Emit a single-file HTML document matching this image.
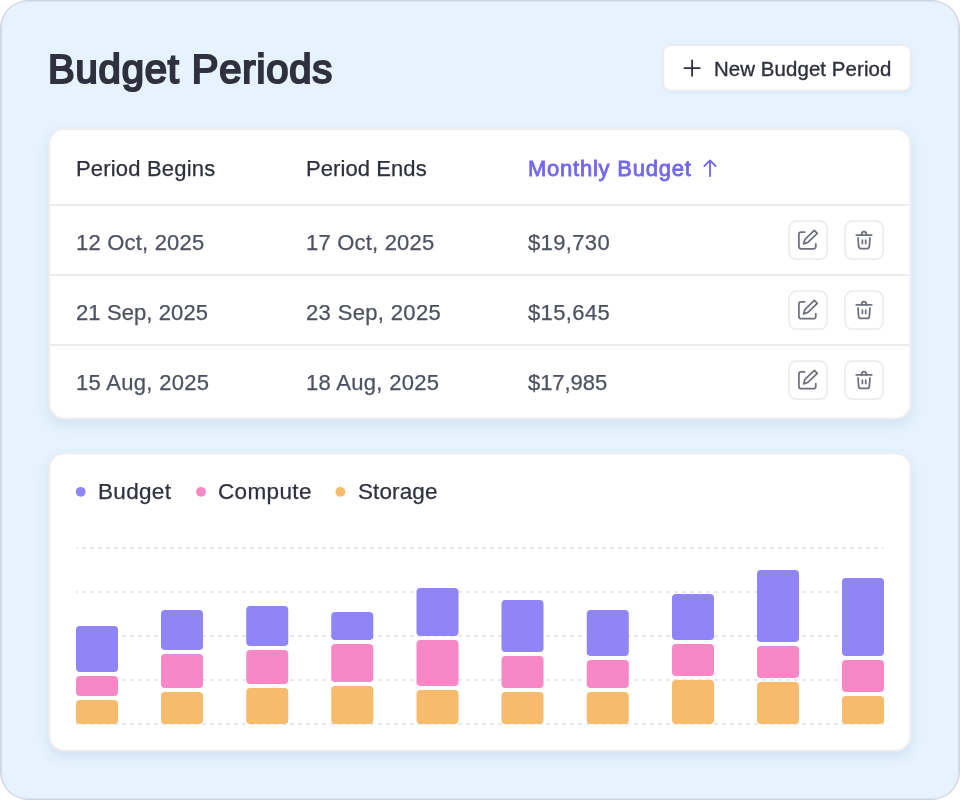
<!DOCTYPE html>
<html lang="en">
<head>
<meta charset="utf-8">
<title>Budget Periods</title>
<style>
  html, body { margin: 0; padding: 0; background: #ffffff; }
  body { width: 960px; height: 800px; position: relative; overflow: hidden;
         font-family: "Liberation Sans", sans-serif; color: #2f3140; }
  #shapes { position: absolute; left: 0; top: 0; }
  .abs { position: absolute; white-space: nowrap; line-height: 1; will-change: transform; }
  h1 { margin: 0; font-size: 40px; font-weight: 400; letter-spacing: 0.83px; color: #2f3140; -webkit-text-stroke: 2.1px #2f3140; }
  .btnlabel { font-size: 20.4px; color: #2d2f3c; letter-spacing: 0.1px; -webkit-text-stroke: 0.35px #2d2f3c; }
  .th { font-size: 22px; color: #2d2f3c; letter-spacing: 0.18px; -webkit-text-stroke: 0.25px #2d2f3c; }
  .td { font-size: 22px; color: #4d5160; letter-spacing: 0.2px; -webkit-text-stroke: 0.25px #4d5160; }
  .sorted { color: #7367f0; font-weight: 400; font-size: 22px; letter-spacing: 0.76px; -webkit-text-stroke: 0.8px #7367f0; }
  .lg { font-size: 22.5px; color: #2f3140; -webkit-text-stroke: 0.25px #2f3140; }
</style>
</head>
<body>
<svg id="shapes" width="960" height="800" viewBox="0 0 960 800">
  <defs>
    <filter id="cardsh" x="-5%" y="-10%" width="110%" height="125%">
      <feDropShadow dx="0" dy="5" stdDeviation="5.5" flood-color="#5f7fa8" flood-opacity="0.15"/>
    </filter>
    <filter id="btnsh" x="-5%" y="-20%" width="110%" height="150%">
      <feDropShadow dx="0" dy="2" stdDeviation="1.6" flood-color="#5f7fa8" flood-opacity="0.08"/>
    </filter>
  </defs>
  <!-- page frame -->
  <rect x="0" y="0" width="960" height="800" rx="28.5" fill="#cbd5e4"/>
  <rect x="1.75" y="1.6" width="956.5" height="796.8" rx="25.2" fill="#e6f2fe"/>

  <!-- new budget period button -->
  <rect x="662.5" y="44.3" width="249" height="47" rx="8" fill="#ebebee" filter="url(#btnsh)"/>
  <rect x="664.1" y="45.9" width="245.8" height="43.8" rx="6.5" fill="#ffffff"/>
  <path d="M692.1 59.75V76.45M683.75 68.1H700.45" stroke="#2d2f3c" stroke-width="1.8" fill="none"/>

  <!-- table card -->
  <rect x="48.25" y="128" width="863.25" height="291.6" rx="16" fill="#eeeef1" filter="url(#cardsh)"/>
  <rect x="50.25" y="130" width="859.25" height="287.6" rx="14" fill="#ffffff"/>
  <path d="M50.25 205H909.5M50.25 275H909.5M50.25 345H909.5" stroke="#ececef" stroke-width="2" fill="none"/>
  <path d="M710 176.2V160.4M704.4 166L710 160.4L715.6 166" stroke="#7367f0" stroke-width="1.8" stroke-linecap="round" stroke-linejoin="round" fill="none"/>
  <g id="actions">
    <g transform="translate(788.3 220.3)"><rect x="0.875" y="0.875" width="37.95" height="37.95" rx="7.2" fill="#fff" stroke="#ececf0" stroke-width="1.75"/><g fill="none" stroke="#6e707e" stroke-width="1.75" stroke-linecap="round" stroke-linejoin="round"><path d="M16.3 11.7H12.8A2.2 2.2 0 0 0 10.6 13.9V26.25A2.2 2.2 0 0 0 12.8 28.45H25.3A2.2 2.2 0 0 0 27.5 26.25V23.45"/><path d="M15.3 23.5L16.64 19.15L26 10.1L29 13.1L19.6 22.1Z"/></g></g>
    <g transform="translate(844.3 220.3)"><rect x="0.875" y="0.875" width="37.95" height="37.95" rx="7.2" fill="#fff" stroke="#ececf0" stroke-width="1.75"/><g fill="none" stroke="#6e707e" stroke-width="1.75" stroke-linecap="round" stroke-linejoin="round"><path d="M12 14.7H27.4"/><path d="M17.3 14.7A2.4 3.3 0 0 1 22.1 14.7"/><path d="M13.7 17.7L14.3 25.9A2.4 2.4 0 0 0 16.7 28.2H22.7A2.4 2.4 0 0 0 25.1 25.9L25.7 17.7"/><path d="M18.1 19.9V23.2M21.4 19.9V23.2"/></g></g>
    <g transform="translate(788.3 290.3)"><rect x="0.875" y="0.875" width="37.95" height="37.95" rx="7.2" fill="#fff" stroke="#ececf0" stroke-width="1.75"/><g fill="none" stroke="#6e707e" stroke-width="1.75" stroke-linecap="round" stroke-linejoin="round"><path d="M16.3 11.7H12.8A2.2 2.2 0 0 0 10.6 13.9V26.25A2.2 2.2 0 0 0 12.8 28.45H25.3A2.2 2.2 0 0 0 27.5 26.25V23.45"/><path d="M15.3 23.5L16.64 19.15L26 10.1L29 13.1L19.6 22.1Z"/></g></g>
    <g transform="translate(844.3 290.3)"><rect x="0.875" y="0.875" width="37.95" height="37.95" rx="7.2" fill="#fff" stroke="#ececf0" stroke-width="1.75"/><g fill="none" stroke="#6e707e" stroke-width="1.75" stroke-linecap="round" stroke-linejoin="round"><path d="M12 14.7H27.4"/><path d="M17.3 14.7A2.4 3.3 0 0 1 22.1 14.7"/><path d="M13.7 17.7L14.3 25.9A2.4 2.4 0 0 0 16.7 28.2H22.7A2.4 2.4 0 0 0 25.1 25.9L25.7 17.7"/><path d="M18.1 19.9V23.2M21.4 19.9V23.2"/></g></g>
    <g transform="translate(788.3 360.3)"><rect x="0.875" y="0.875" width="37.95" height="37.95" rx="7.2" fill="#fff" stroke="#ececf0" stroke-width="1.75"/><g fill="none" stroke="#6e707e" stroke-width="1.75" stroke-linecap="round" stroke-linejoin="round"><path d="M16.3 11.7H12.8A2.2 2.2 0 0 0 10.6 13.9V26.25A2.2 2.2 0 0 0 12.8 28.45H25.3A2.2 2.2 0 0 0 27.5 26.25V23.45"/><path d="M15.3 23.5L16.64 19.15L26 10.1L29 13.1L19.6 22.1Z"/></g></g>
    <g transform="translate(844.3 360.3)"><rect x="0.875" y="0.875" width="37.95" height="37.95" rx="7.2" fill="#fff" stroke="#ececf0" stroke-width="1.75"/><g fill="none" stroke="#6e707e" stroke-width="1.75" stroke-linecap="round" stroke-linejoin="round"><path d="M12 14.7H27.4"/><path d="M17.3 14.7A2.4 3.3 0 0 1 22.1 14.7"/><path d="M13.7 17.7L14.3 25.9A2.4 2.4 0 0 0 16.7 28.2H22.7A2.4 2.4 0 0 0 25.1 25.9L25.7 17.7"/><path d="M18.1 19.9V23.2M21.4 19.9V23.2"/></g></g>
  </g>

  <!-- chart card -->
  <rect x="48.25" y="452.5" width="863.25" height="299" rx="16" fill="#eeeef1" filter="url(#cardsh)"/>
  <rect x="50.25" y="454.5" width="859.25" height="295" rx="14" fill="#ffffff"/>
  <circle cx="80.7" cy="491.8" r="4.9" fill="#8f85f7"/>
  <circle cx="201" cy="491.8" r="4.9" fill="#f887c7"/>
  <circle cx="340.4" cy="491.8" r="4.9" fill="#f6bb6c"/>
  <path d="M76 548H884M76 592H884M76 636H884M76 680H884M76 724H884" stroke="#e8e8ec" stroke-width="2" stroke-dasharray="4 4" stroke-dashoffset="2" fill="none"/>
  <g id="bars">
    <rect x="76" y="626" width="42" height="46" rx="4" fill="#8f85f7"/>
    <rect x="76" y="676" width="42" height="20" rx="4" fill="#f887c7"/>
    <rect x="76" y="700" width="42" height="24" rx="4" fill="#f6bb6c"/>
    <rect x="161" y="610" width="42" height="40" rx="4" fill="#8f85f7"/>
    <rect x="161" y="654" width="42" height="34" rx="4" fill="#f887c7"/>
    <rect x="161" y="692" width="42" height="32" rx="4" fill="#f6bb6c"/>
    <rect x="246.25" y="606" width="42" height="40" rx="4" fill="#8f85f7"/>
    <rect x="246.25" y="650" width="42" height="34" rx="4" fill="#f887c7"/>
    <rect x="246.25" y="688" width="42" height="36" rx="4" fill="#f6bb6c"/>
    <rect x="331.25" y="612" width="42" height="28" rx="4" fill="#8f85f7"/>
    <rect x="331.25" y="644" width="42" height="38" rx="4" fill="#f887c7"/>
    <rect x="331.25" y="686" width="42" height="38" rx="4" fill="#f6bb6c"/>
    <rect x="416.5" y="588" width="42" height="48" rx="4" fill="#8f85f7"/>
    <rect x="416.5" y="640" width="42" height="46" rx="4" fill="#f887c7"/>
    <rect x="416.5" y="690" width="42" height="34" rx="4" fill="#f6bb6c"/>
    <rect x="501.5" y="600" width="42" height="52" rx="4" fill="#8f85f7"/>
    <rect x="501.5" y="656" width="42" height="32" rx="4" fill="#f887c7"/>
    <rect x="501.5" y="692" width="42" height="32" rx="4" fill="#f6bb6c"/>
    <rect x="586.75" y="610" width="42" height="46" rx="4" fill="#8f85f7"/>
    <rect x="586.75" y="660" width="42" height="28" rx="4" fill="#f887c7"/>
    <rect x="586.75" y="692" width="42" height="32" rx="4" fill="#f6bb6c"/>
    <rect x="672" y="594" width="42" height="46" rx="4" fill="#8f85f7"/>
    <rect x="672" y="644" width="42" height="32" rx="4" fill="#f887c7"/>
    <rect x="672" y="680" width="42" height="44" rx="4" fill="#f6bb6c"/>
    <rect x="757" y="570" width="42" height="72" rx="4" fill="#8f85f7"/>
    <rect x="757" y="646" width="42" height="32" rx="4" fill="#f887c7"/>
    <rect x="757" y="682" width="42" height="42" rx="4" fill="#f6bb6c"/>
    <rect x="842" y="578" width="42" height="78" rx="4" fill="#8f85f7"/>
    <rect x="842" y="660" width="42" height="32" rx="4" fill="#f887c7"/>
    <rect x="842" y="696" width="42" height="28" rx="4" fill="#f6bb6c"/>
  </g>
</svg>

<h1 class="abs" style="left:47.9px; top:48.5px;">Budget Periods</h1>
<div class="abs btnlabel" style="left:713.7px; top:58.5px;">New Budget Period</div>

<div class="abs th" style="left:76px; top:158px;">Period Begins</div>
<div class="abs th" style="left:306px; top:158px; letter-spacing:0.08px">Period Ends</div>
<div class="abs sorted" style="left:528px; top:158px;">Monthly Budget</div>

<div class="abs td" style="left:76px; top:232px;">12 Oct, 2025</div>
<div class="abs td" style="left:306px; top:232px;">17 Oct, 2025</div>
<div class="abs td" style="left:528px; top:232px; letter-spacing:0.35px">$19,730</div>

<div class="abs td" style="left:76px; top:302px; letter-spacing:0.1px">21 Sep, 2025</div>
<div class="abs td" style="left:306px; top:302px; letter-spacing:0.35px">23 Sep, 2025</div>
<div class="abs td" style="left:528px; top:302px; letter-spacing:0.37px">$15,645</div>

<div class="abs td" style="left:76px; top:372px; letter-spacing:0.3px">15 Aug, 2025</div>
<div class="abs td" style="left:306px; top:372px; letter-spacing:0.3px">18 Aug, 2025</div>
<div class="abs td" style="left:528px; top:372px; letter-spacing:-0.05px">$17,985</div>

<div class="abs lg" style="left:98px; top:481.3px; letter-spacing:0.33px">Budget</div>
<div class="abs lg" style="left:218px; top:481.3px; letter-spacing:0.36px">Compute</div>
<div class="abs lg" style="left:358px; top:481.3px; letter-spacing:0.1px">Storage</div>

</body>
</html>
